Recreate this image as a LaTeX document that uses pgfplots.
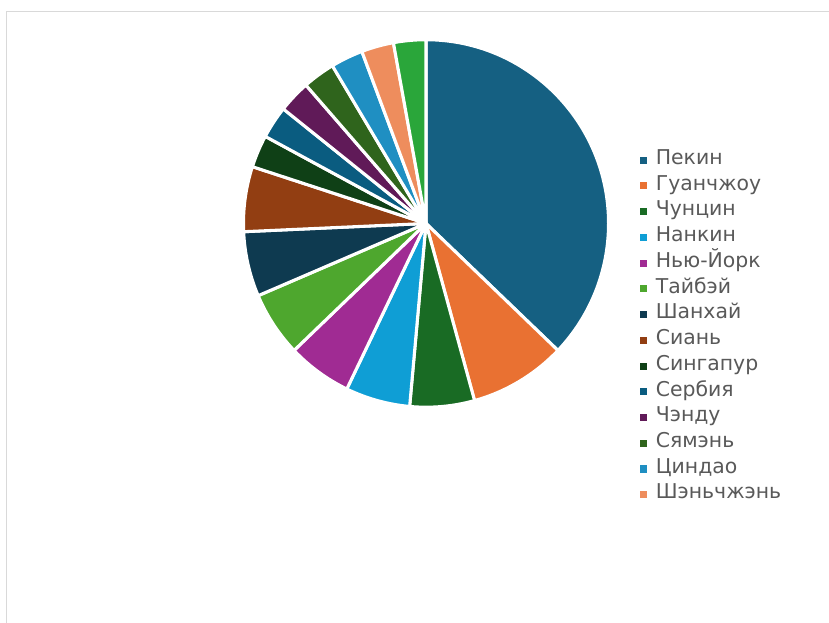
\documentclass[border=0pt]{standalone}
\usepackage{fontspec}
\setmainfont{DejaVu Sans}
\usepackage{pgfplots}
\usepackage{pgfplotstable}
\pgfplotsset{compat=1.18}

\definecolor{c1}{HTML}{156082}
\definecolor{c2}{HTML}{E97132}
\definecolor{c3}{HTML}{196B24}
\definecolor{c4}{HTML}{0F9ED5}
\definecolor{c5}{HTML}{A02B93}
\definecolor{c6}{HTML}{4EA72E}
\definecolor{c7}{HTML}{0E3A50}
\definecolor{c8}{HTML}{923E12}
\definecolor{c9}{HTML}{0F4016}
\definecolor{c10}{HTML}{0A5C80}
\definecolor{c11}{HTML}{601A58}
\definecolor{c12}{HTML}{2F641C}
\definecolor{c13}{HTML}{1F8FC2}
\definecolor{c14}{HTML}{EE8D5D}
\definecolor{c15}{HTML}{2AA63A}
\definecolor{legtext}{HTML}{595959}

\pgfplotstableread[col sep=comma]{
name,value,colour
Пекин,13,c1
Гуанчжоу,3,c2
Чунцин,2,c3
Нанкин,2,c4
Нью-Йорк,2,c5
Тайбэй,2,c6
Шанхай,2,c7
Сиань,2,c8
Сингапур,1,c9
Сербия,1,c10
Чэнду,1,c11
Сямэнь,1,c12
Циндао,1,c13
Шэньчжэнь,1,c14
Другое,1,c15
}\data

\pgfplotsset{mysq/.style={legend image code/.code={\fill[##1, draw=none] (0pt,-2.65pt) rectangle (5.3pt,2.65pt);}}}

\begin{document}
\begin{tikzpicture}
\pgfplotstablegetrowsof{\data}\pgfmathtruncatemacro\nrows{\pgfplotsretval-1}
\def\total{0}
\pgfplotsforeachungrouped \i in {0,...,\nrows}{%
  \pgfplotstablegetelem{\i}{value}\of\data
  \pgfmathsetmacro\total{\total+\pgfplotsretval}%
}
\def\astart{90}
\draw[color=black!15, line width=0.8pt] (4.6pt,-520pt) -- (4.6pt,-8.4pt) -- (700pt,-8.4pt);
\begin{axis}[
  at={(319.5pt,-167.6pt)}, anchor=origin,
  x=136.9pt, y=137.8pt,
  xmin=-1.05, xmax=1.05, ymin=-1.05, ymax=1.05,
  hide axis, clip=false,
  legend style={at={(axis cs:1.1722,-0.566)}, anchor=west, draw=none, fill=none,
    inner sep=0pt, outer sep=0pt,
    font=\fontsize{15.3}{18}\selectfont\color{legtext},
    row sep=3.3pt,
    nodes={inner sep=0pt, text height=11.2pt, text depth=4.8pt},
    /tikz/every odd column/.append style={column sep=6.6pt}},
  legend cell align=left,
]
\pgfplotsforeachungrouped \i in {0,...,\nrows}{%
  \pgfplotstablegetelem{\i}{value}\of\data \let\v\pgfplotsretval
  \pgfplotstablegetelem{\i}{colour}\of\data \let\col\pgfplotsretval
  \pgfmathsetmacro\aend{\astart-360*\v/\total}%
  \edef\temp{\noexpand\fill[\col, draw=white, line width=2.3pt, line join=round]
    (axis cs:0,0) -- (axis cs:{cos(\astart)},{sin(\astart)})
    arc[start angle=\astart, end angle=\aend, x radius=136.9pt, y radius=137.8pt] -- cycle;}%
  \temp
  \global\let\astart\aend
}
\pgfplotsforeachungrouped \i in {0,...,13}{%
  \pgfplotstablegetelem{\i}{colour}\of\data \let\col\pgfplotsretval
  \pgfplotstablegetelem{\i}{name}\of\data \let\nm\pgfplotsretval
  \edef\temp{\noexpand\addlegendimage{mysq, fill=\col}\noexpand\addlegendentry{\nm}}%
  \temp
}
\end{axis}
\pgfresetboundingbox
\useasboundingbox (0,0) rectangle (621.75pt,-467.25pt);
\end{tikzpicture}
\end{document}
